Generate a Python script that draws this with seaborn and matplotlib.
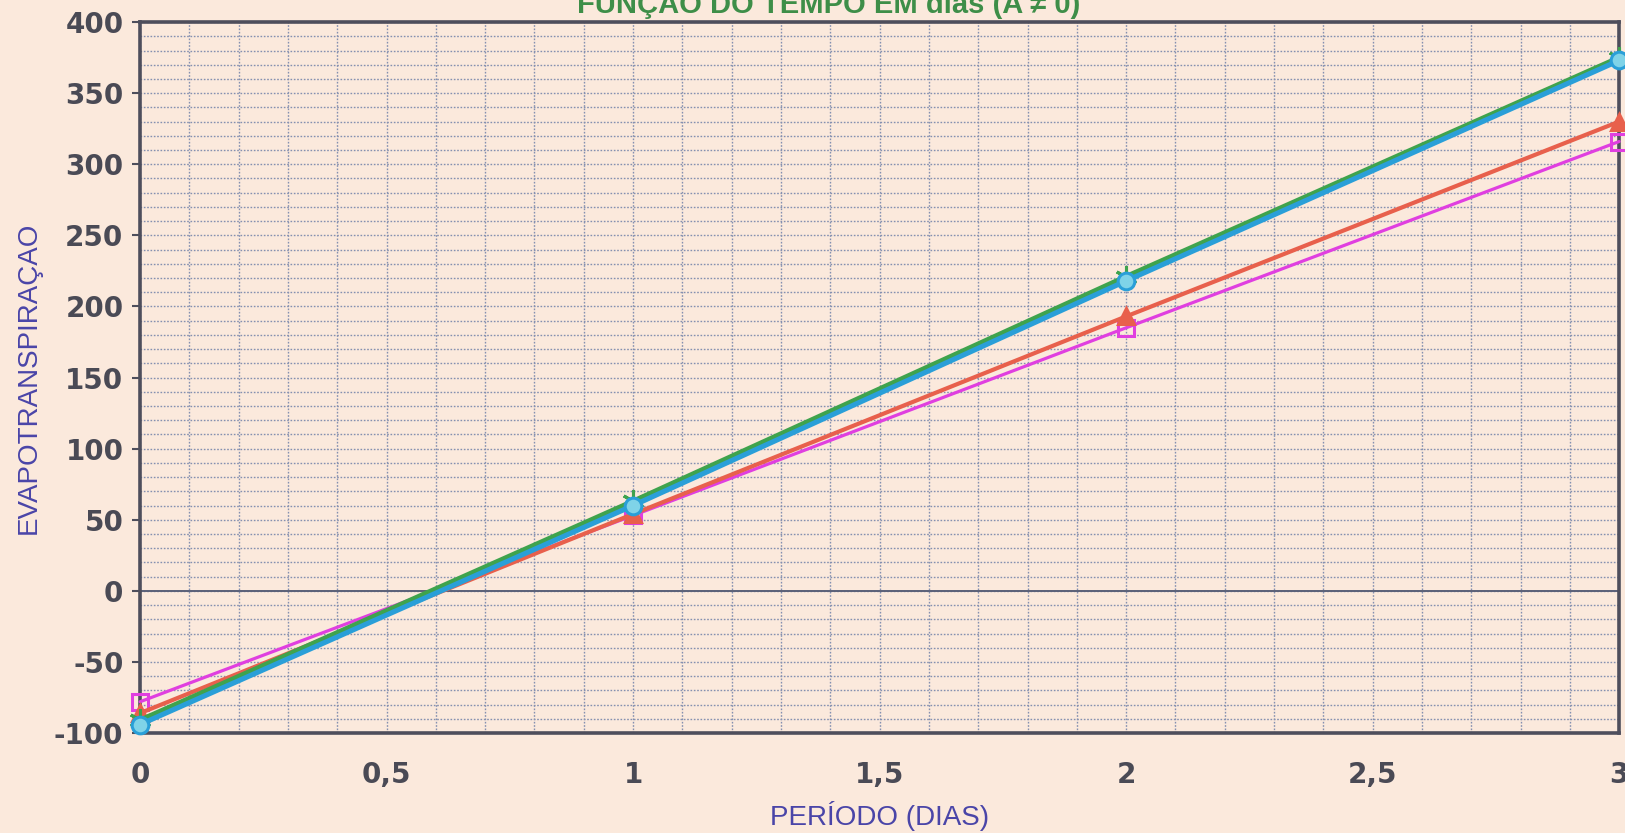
import numpy as np
import pandas as pd
import matplotlib
matplotlib.use("Agg")
import matplotlib.pyplot as plt
import seaborn as sns
from matplotlib.ticker import MultipleLocator, FuncFormatter

# Period in days
dias = [0, 1, 2, 3]

# Evapotranspiration series
serie_magenta = [-78, 53, 185, 316]
serie_vermelha = [-86, 54, 193, 330]
serie_verde = [-91, 63, 221, 375]
serie_azul = [-94, 60, 218, 373]

titulo = "FUNÇÃO DO TEMPO EM dias (A \u2260 0)"
rotulo_x = "PERÍODO (DIAS)"
rotulo_y = "EVAPOTRANSPIRAÇAO"

fundo = "#FBE9DC"
sns.set_theme(style="white")
plt.rcParams["font.family"] = ["Liberation Sans", "DejaVu Sans"]

fig = plt.figure(figsize=(16.25, 8.33), dpi=100, facecolor=fundo)
ax = fig.add_axes([0.0862, 0.12, 0.9102, 0.8535])
ax.set_facecolor(fundo)

series = [
    (serie_magenta, "#E03FE0", "s", 2.3, 11, "none"),
    (serie_vermelha, "#E8604C", "^", 3.0, 12, "#E8604C"),
    (serie_verde, "#3FA34D", (6, 2, 0), 3.7, 16, "#3FA34D"),
    (serie_azul, "#2A9FD8", "o", 3.7, 12, "#7FD3E8"),
]
for valores, cor, marcador, lw, ms, face in series:
    df = pd.DataFrame({"dias": dias, "valor": valores})
    sns.lineplot(data=df, x="dias", y="valor", ax=ax, color=cor, lw=lw,
                 marker=marcador, markersize=ms, markerfacecolor=face,
                 markeredgecolor=cor, markeredgewidth=2.2, clip_on=False,
                 zorder=5)

ax.set_xlim(0, 3)
ax.set_ylim(-100, 400)
ax.xaxis.set_major_locator(MultipleLocator(0.5))
ax.xaxis.set_minor_locator(MultipleLocator(0.1))
ax.yaxis.set_major_locator(MultipleLocator(50))
ax.yaxis.set_minor_locator(MultipleLocator(10))
ax.xaxis.set_major_formatter(FuncFormatter(lambda v, p: f"{v:g}".replace(".", ",")))
ax.yaxis.set_major_formatter(FuncFormatter(lambda v, p: f"{v:.0f}"))

grid_cor = "#8590B0"
ax.grid(which="both", axis="both", color=grid_cor, linestyle=(0, (1.2, 1.2)),
        linewidth=1.0, zorder=1)
ax.axhline(0, color="#5A6078", lw=1.4, zorder=2)

for s in ax.spines.values():
    s.set_visible(True)
    s.set_color("#4E4E5C")
    s.set_linewidth(2.6)

ax.tick_params(axis="y", which="major", direction="out", length=6, width=1.5,
               color="#4E4E5C", left=True, pad=6)
ax.tick_params(axis="x", which="major", direction="out", length=0, pad=20)
ax.tick_params(which="minor", length=0)
for lab in ax.get_xticklabels() + ax.get_yticklabels():
    lab.set_fontsize(20)
    lab.set_fontweight("bold")
    lab.set_family(["DejaVu Sans"])
    lab.set_color("#4A4A55")

ax.set_xlabel(rotulo_x, fontsize=20, color="#4A45A8", labelpad=9)
ax.set_ylabel(rotulo_y, fontsize=20, color="#4A45A8")
ax.yaxis.set_label_coords(-0.0665, 0.5)

fig.text(0.51, 1 - 13 / 833, titulo, ha="center", va="baseline",
         fontsize=21, fontweight="bold", color="#3E8E48")

fig.savefig("out.png", dpi=100, facecolor=fundo)
